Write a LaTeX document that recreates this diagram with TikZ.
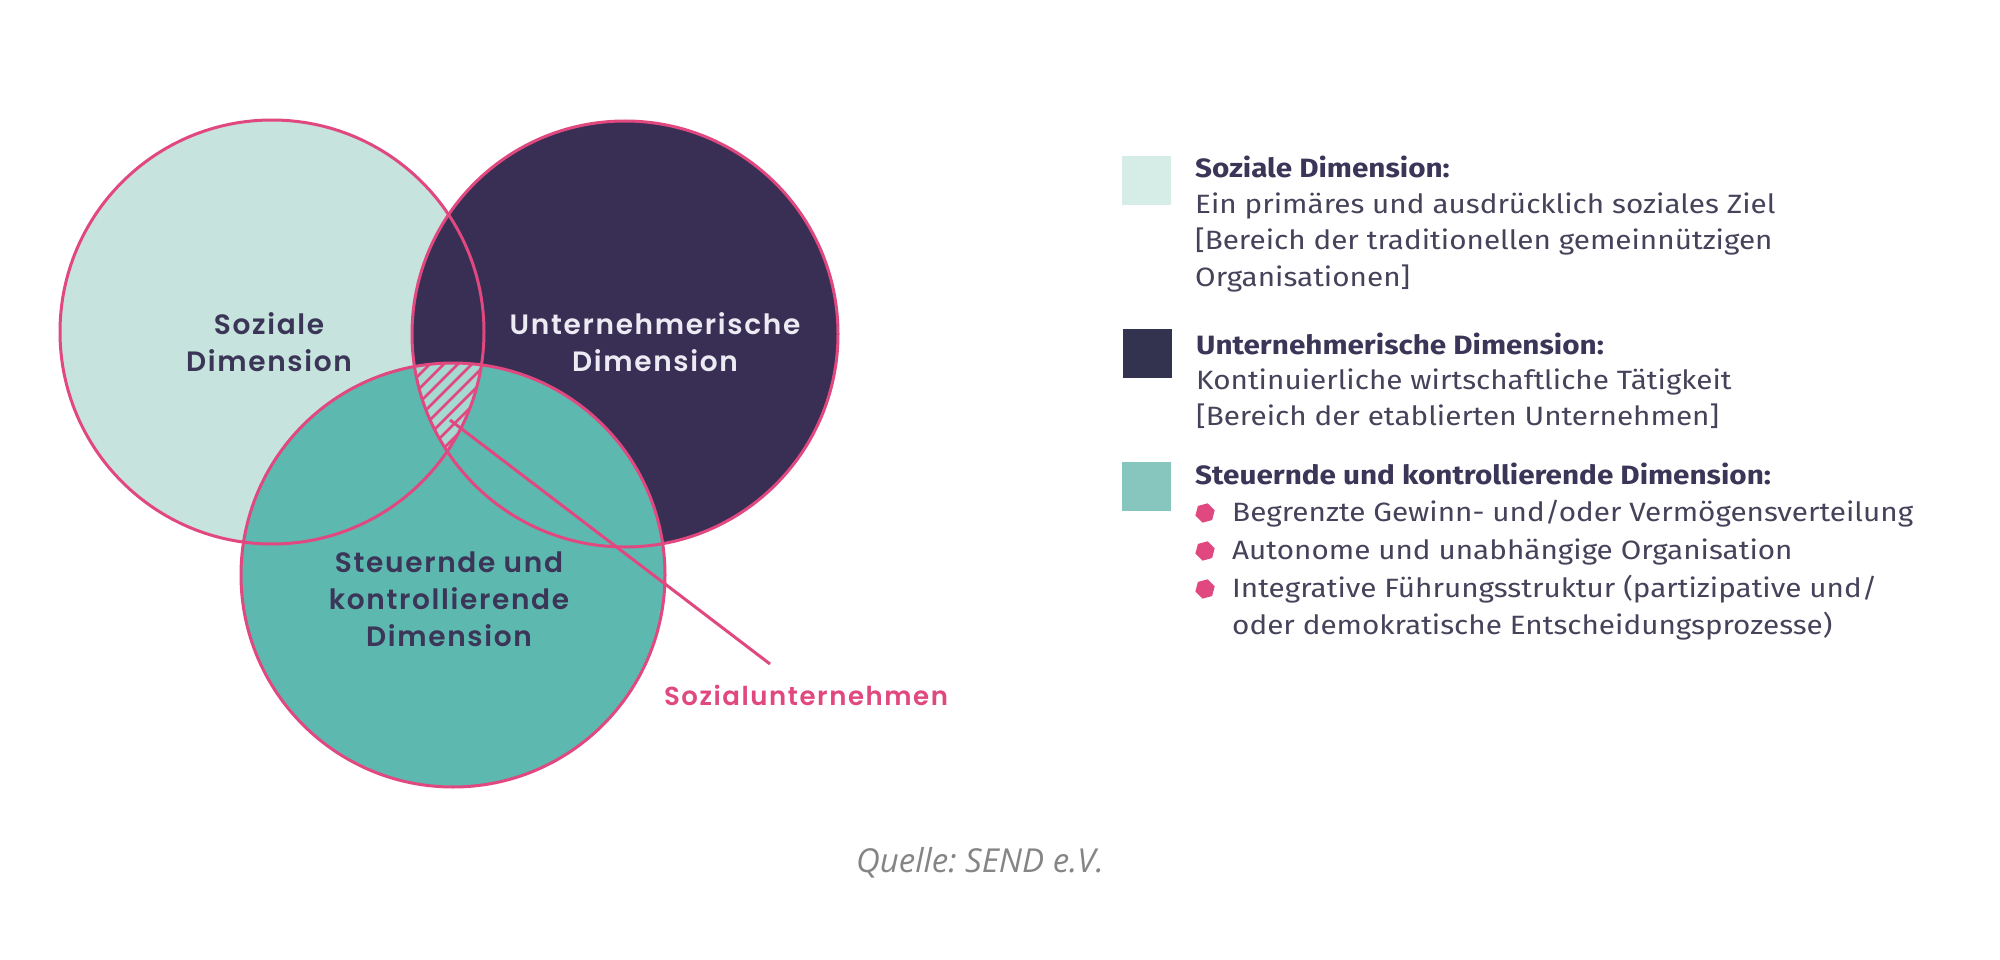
\documentclass[tikz,border=0pt]{standalone}
\usepackage{fontspec}
\setmainfont{Fira Sans}[FakeStretch=1.12]
\newfontfamily\popfont{Poppins}[BoldFont={Poppins SemiBold}, LetterSpace=6]
\newfontfamily\quellefont{Open Sans}
\usetikzlibrary{shapes.geometric}
\definecolor{mint}{HTML}{C6E4DD}
\definecolor{navyc}{HTML}{392F55}
\definecolor{tealc}{HTML}{5DB8B0}
\definecolor{triple}{HTML}{A6D9D1}
\definecolor{pinkc}{HTML}{E0487F}
\definecolor{labtext}{HTML}{3B3558}
\definecolor{lav}{HTML}{ECEAF3}
\definecolor{legtext}{HTML}{45425A}
\definecolor{sqmint}{HTML}{D6EDE7}
\definecolor{sqnavy}{HTML}{34334F}
\definecolor{sqteal}{HTML}{87C6BE}
\definecolor{quelle}{HTML}{858585}
\tikzset{
  lbl/.style={font=\popfont\bfseries\fontsize{28}{37}\selectfont, align=center, text=labtext, inner sep=0pt},
  legline/.style={anchor=base west, inner sep=0pt, font=\fontsize{26.5}{30}\selectfont, text=legtext},
  legtitle/.style={legline, font=\bfseries\fontsize{26.5}{30}\selectfont, text=labtext},
  sq/.style={minimum size=49pt, inner sep=0pt, anchor=north west},
  bul/.style={regular polygon, regular polygon sides=6, minimum size=20pt, inner sep=0pt, fill=pinkc, rotate=15},
  ring/.style={draw=pinkc, line width=3pt},
}
\begin{document}
\frenchspacing
\begin{tikzpicture}[x=1pt,y=-1pt]
\fill[white] (0,0) rectangle (2000,960);
\useasboundingbox (0,0) rectangle (2000,960);
% circles
\fill[mint] (272,332) circle[radius=212];
\fill[navyc] (625,334) circle[radius=213];
\fill[tealc] (453,575) circle[radius=212];
\begin{scope}
  \clip (272,332) circle[radius=212];
  \clip (625,334) circle[radius=213];
  \fill[triple] (453,575) circle[radius=212];
  \clip (453,575) circle[radius=212];
  \foreach \i in {-14,...,14}
    \draw[pinkc, line width=2.5pt] (440+\i*14,480) -- ++(140,-140);
\end{scope}
\draw[ring] (272,332) circle[radius=212];
\draw[ring] (625,334) circle[radius=213];
\draw[ring] (453,575) circle[radius=212];
% pointer
\coordinate (su) at (450,420);
\coordinate (suend) at (770,664);
\draw[pinkc, line width=3pt] (su) -- (suend);
% circle labels
\node[lbl] (tS) at (269,342) {Soziale\\Dimension};
\node[lbl, text=lav] (tU) at (655,342) {Unternehmerische\\Dimension};
\node[lbl] (tK) at (449,599) {Steuernde und\\kontrollierende\\Dimension};
\node[lbl, font=\popfont\bfseries\fontsize{26}{30}\selectfont, text=pinkc] (tSU) at (806,695) {Sozialunternehmen};
% legend
\node[sq, fill=sqmint] (s1) at (1122,156) {};
\node[legtitle] (l1a) at (1195,178) {Soziale Dimension:};
\node[legline] (l1b) at (1195,214) {Ein primäres und ausdrücklich soziales Ziel};
\node[legline] (l1c) at (1195,250) {[Bereich der traditionellen gemeinnützigen};
\node[legline] (l1d) at (1195,286) {Organisationen]};
\node[sq, fill=sqnavy] (s2) at (1123,329) {};
\node[legtitle] (l2a) at (1196,354) {Unternehmerische Dimension:};
\node[legline] (l2b) at (1196,389) {Kontinuierliche wirtschaftliche Tätigkeit};
\node[legline] (l2c) at (1196,425) {[Bereich der etablierten Unternehmen]};
\node[sq, fill=sqteal] (s3) at (1122,462) {};
\node[legtitle] (l3a) at (1195,484) {Steuernde und kontrollierende Dimension:};
\node[bul] (b1) at (1205,513) {};
\node[legline] (l3b) at (1232,521) {Begrenzte Gewinn- und/oder Vermögensverteilung};
\node[bul] (b2) at (1205,551) {};
\node[legline] (l3c) at (1232,559) {Autonome und unabhängige Organisation};
\node[bul] (b3) at (1205,589) {};
\node[legline] (l3d) at (1232,597) {Integrative Führungsstruktur (partizipative und/};
\node[legline] (l3e) at (1232,634) {oder demokratische Entscheidungsprozesse)};
% source
\node[font=\quellefont\itshape\fontsize{33}{36}\selectfont, text=quelle, inner sep=0pt] (q) at (980,863) {Quelle: SEND e.V.};
\end{tikzpicture}
\end{document}
